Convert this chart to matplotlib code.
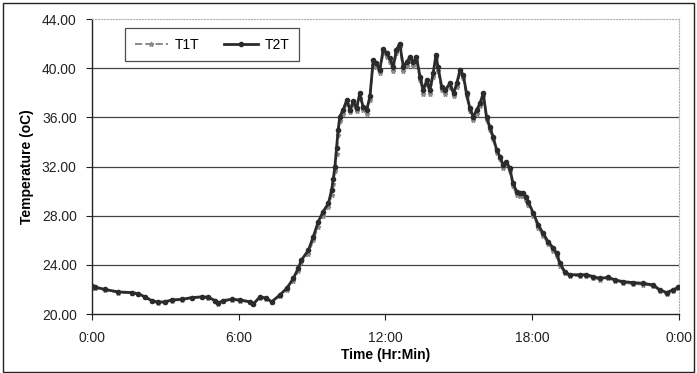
import numpy as np
import matplotlib
matplotlib.use("Agg")
import matplotlib.pyplot as plt
from matplotlib.patches import Rectangle

plt.rcParams['font.family'] = ['Liberation Sans', 'DejaVu Sans']

# time of day in minutes after midnight
time_min = [0, 7, 32, 65, 97, 114, 130, 146, 163, 179,
            196, 220, 245, 269, 285, 302, 310, 322, 343, 363,
            388, 396, 412, 428, 441, 461, 478, 494, 506, 514,
            531, 543, 555, 567, 580, 588, 592, 596, 600, 604,
            608, 616, 625, 633, 641, 649, 657, 665, 674, 682,
            690, 698, 706, 715, 723, 731, 739, 747, 755, 764,
            772, 780, 788, 796, 805, 813, 821, 829, 837, 844,
            849, 858, 866, 878, 887, 895, 903, 911, 919, 927,
            935, 944, 952, 960, 968, 976, 984, 993, 1001, 1009,
            1017, 1025, 1033, 1042, 1050, 1058, 1066, 1070, 1083, 1095,
            1107, 1119, 1132, 1140, 1148, 1160, 1172, 1197, 1213, 1230,
            1246, 1267, 1283, 1303, 1328, 1352, 1377, 1393, 1410, 1426,
            1439]

t2t = [22.25, 22.2, 22.0, 21.8, 21.75, 21.65, 21.4, 21.1, 20.97, 21.0,
       21.15, 21.2, 21.34, 21.4, 21.37, 21.1, 20.9, 21.1, 21.2, 21.15,
       21.0, 20.83, 21.4, 21.3, 21.0, 21.56, 22.1, 22.9, 23.73, 24.4,
       25.2, 26.3, 27.5, 28.33, 29.0, 30.1, 31.0, 32.0, 33.5, 35.0,
       36.06, 36.6, 37.4, 36.6, 37.3, 36.74, 37.96, 36.87, 36.6, 37.7,
       40.67, 40.4, 39.85, 41.6, 41.2, 40.8, 40.1, 41.5, 42.0, 40.1,
       40.5, 40.9, 40.5, 40.9, 39.3, 38.2, 39.0, 38.2, 39.6, 41.07,
       40.1, 38.5, 38.2, 38.77, 37.96, 38.77, 39.85, 39.45, 37.96, 36.74,
       36.06, 36.6, 37.15, 37.96, 36.06, 35.24, 34.43, 33.35, 32.8, 32.13,
       32.4, 31.86, 30.64, 29.96, 29.83, 29.83, 29.55, 29.15, 28.2, 27.25,
       26.57, 25.9, 25.36, 24.95, 24.14, 23.45, 23.2, 23.2, 23.2, 23.05,
       22.9, 22.99, 22.78, 22.64, 22.56, 22.5, 22.37, 21.97, 21.75, 21.97,
       22.19]

t1t = [22.15, 22.1, 21.95, 21.75, 21.7, 21.6, 21.35, 21.05, 20.9, 20.95,
       21.1, 21.15, 21.3, 21.35, 21.3, 21.05, 20.85, 21.05, 21.15, 21.1,
       20.95, 20.8, 21.3, 21.25, 20.95, 21.45, 21.95, 22.7, 23.5, 24.2,
       24.9, 26.0, 27.1, 28.0, 28.7, 29.7, 30.6, 31.6, 33.0, 34.6,
       35.7, 36.3, 37.1, 36.4, 37.0, 36.5, 37.6, 36.6, 36.3, 37.4,
       40.3, 40.1, 39.6, 41.3, 40.9, 40.5, 39.8, 41.2, 41.7, 39.8,
       40.2, 40.6, 40.2, 40.6, 39.0, 37.9, 38.7, 37.9, 39.3, 40.8,
       39.8, 38.2, 37.9, 38.5, 37.7, 38.5, 39.6, 39.2, 37.7, 36.5,
       35.8, 36.3, 36.9, 37.7, 35.8, 35.0, 34.2, 33.1, 32.6, 31.9,
       32.2, 31.6, 30.4, 29.7, 29.6, 29.6, 29.3, 28.9, 28.0, 27.0,
       26.35, 25.7, 25.15, 24.75, 23.95, 23.3, 23.1, 23.1, 23.1, 22.95,
       22.8, 22.9, 22.7, 22.55, 22.45, 22.4, 22.3, 21.9, 21.65, 21.9,
       22.1]

x_ticks = [0, 360, 720, 1080, 1440]
x_labels = ['0:00', '6:00', '12:00', '18:00', '0:00']
y_ticks = [20, 24, 28, 32, 36, 40, 44]

fig = plt.figure(figsize=(6.97, 3.73), dpi=100)
ax = fig.add_axes([0.132, 0.158, 0.842, 0.791])

# outer chart frame
fig.patches.append(Rectangle((0.004, 0.004), 0.992, 0.988, transform=fig.transFigure,
                             fill=False, edgecolor='#222222', lw=1.0))

# horizontal gridlines (inner ones dark, like the scan)
for yv in y_ticks[1:-1]:
    ax.axhline(yv, color='#444444', lw=0.9, zorder=1)

ax.plot(time_min, t1t, color='#8a8a8a', ls='--', lw=1.4, marker='*', ms=3.5,
        label='T1T', zorder=2)
ax.plot(time_min, t2t, color='#2b2b2b', ls='-', lw=2.0, marker='o', ms=3.0,
        mec='#2b2b2b', label='T2T', zorder=3)

ax.set_xlim(0, 1440)
ax.set_ylim(20, 44)
ax.set_xticks(x_ticks)
ax.set_xticklabels(x_labels)
ax.set_yticks(y_ticks)
ax.set_yticklabels([f"{v:.2f}" for v in y_ticks])
ax.tick_params(axis='both', labelsize=10, direction='out', length=4, width=0.8,
               colors='#222222')
ax.tick_params(axis='x', pad=8)
ax.tick_params(axis='y', pad=7)

ax.spines['left'].set_color('#222222')
ax.spines['bottom'].set_color('#222222')
ax.spines['left'].set_linewidth(1.0)
ax.spines['bottom'].set_linewidth(1.0)
for s in ['top', 'right']:
    ax.spines[s].set_color('#b0b0b0')
    ax.spines[s].set_linestyle(':')
    ax.spines[s].set_linewidth(0.8)

ax.set_xlabel('Time (Hr:Min)', fontsize=10, fontweight='bold', labelpad=2)
ax.set_ylabel('Temperature (oC)', fontsize=10, fontweight='bold', labelpad=6)

leg = ax.legend(loc='upper left', bbox_to_anchor=(0.056, 0.97), ncol=2,
                fontsize=10, frameon=True, fancybox=False, handlelength=2.4,
                columnspacing=1.8, borderpad=0.7, handletextpad=0.5,
                borderaxespad=0)
leg.get_frame().set_edgecolor('#222222')
leg.get_frame().set_linewidth(0.9)

fig.savefig('out.png', dpi=100)
